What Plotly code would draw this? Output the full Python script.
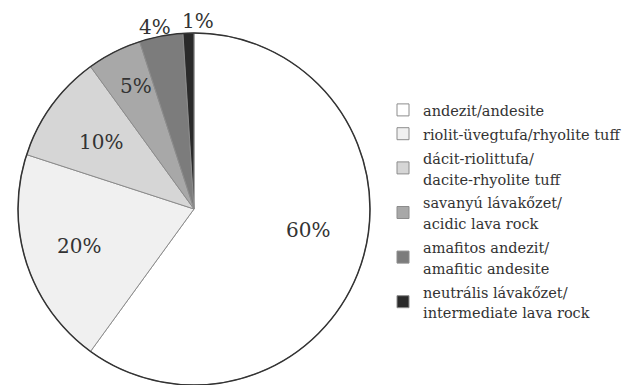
import math
import plotly.graph_objects as go

# Rock types (Hungarian / English) and their shares in percent
labels = [
    "andezit/andesite",
    "riolit-üvegtufa/rhyolite tuff",
    "dácit-riolittufa/<br>dacite-rhyolite tuff",
    "savanyú lávakőzet/<br>acidic lava rock",
    "amafitos andezit/<br>amafitic andesite",
    "neutrális lávakőzet/<br>intermediate lava rock",
]
shares = [60, 20, 10, 5, 4, 1]
colors = ["#ffffff", "#f0f0f0", "#d6d6d6", "#a8a8a8", "#7c7c7c", "#2a2a2a"]

# Label placement: radial fraction of the radius and angular nudge (deg)
label_radius = [0.66, 0.686, 0.651, 0.773, 1.055, 1.068]
label_nudge = [-7.6, 0.0, 0.0, 1.8, -1.3, 3.0]

W, H = 626, 385
dom_x = [18 / W, 370 / W]
dom_y = [0.0, 1 - 33 / H]

FONT = "DejaVu Serif"

# Legend entries: glyphs slightly smaller than the line pitch
legend_text = [
    "<br>".join(f'<span style="font-size:14.5px">{part}</span>' for part in lab.split("<br>"))
    for lab in labels
]

fig = go.Figure(
    go.Pie(
        labels=legend_text,
        values=shares,
        sort=False,
        direction="clockwise",
        rotation=0,
        marker=dict(colors=colors, line=dict(color="#8c8c8c", width=1)),
        textinfo="none",
        hovertext=[lab.replace("<br>", " ") for lab in labels],
        hoverinfo="text+value",
        domain=dict(x=dom_x, y=dom_y),
    )
)

# Darker outline around the whole pie
fig.add_shape(
    type="circle", xref="paper", yref="paper",
    x0=dom_x[0], x1=dom_x[1], y0=dom_y[0], y1=dom_y[1],
    line=dict(color="#333333", width=1.5), layer="above",
)

# Percentage labels placed along each slice's mid-angle
cx = (dom_x[0] + dom_x[1]) / 2 * W
cy = (1 - (dom_y[0] + dom_y[1]) / 2) * H
r = (dom_x[1] - dom_x[0]) * W / 2
total = sum(shares)
cum = 0
for v, f, nudge in zip(shares, label_radius, label_nudge):
    mid = (cum + v / 2) / total * 2 * math.pi + math.radians(nudge)
    cum += v
    px = cx + r * f * math.sin(mid)
    py = cy - r * f * math.cos(mid)
    fig.add_annotation(
        x=px / W, y=1 - py / H, xref="paper", yref="paper",
        text=f"{v}%", showarrow=False,
        font=dict(family=FONT, size=20, color="#333333"),
        xanchor="center", yanchor="middle",
    )

fig.update_layout(
    width=W,
    height=H,
    margin=dict(l=0, r=0, t=0, b=0, autoexpand=False),
    paper_bgcolor="white",
    plot_bgcolor="white",
    font=dict(family=FONT),
    showlegend=True,
    legend=dict(
        x=383 / W, y=1 - 93 / H, xanchor="left", yanchor="top",
        font=dict(family=FONT, size=16, color="#333333"),
        itemwidth=30,
        tracegroupgap=0,
        bgcolor="rgba(0,0,0,0)",
    ),
)

fig.write_html("out.html")
